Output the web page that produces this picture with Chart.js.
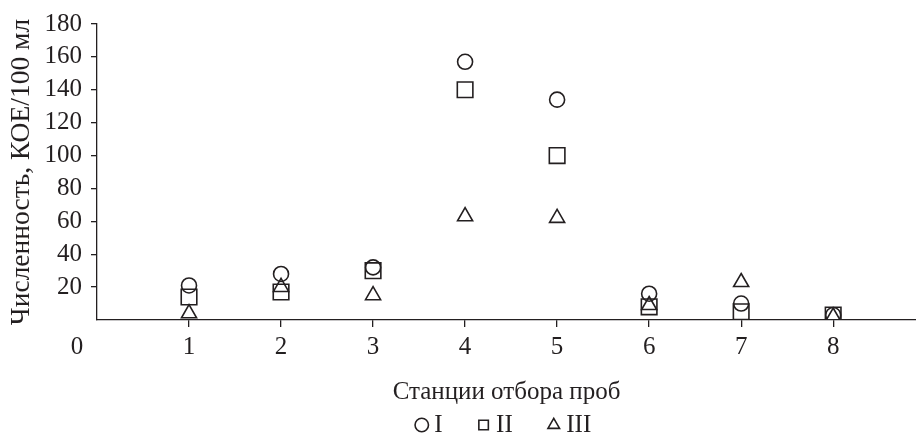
<!DOCTYPE html>
<html>
<head>
<meta charset="utf-8">
<script src="https://cdn.jsdelivr.net/npm/chart.js@4/dist/chart.umd.min.js"></script>
<style>
  html, body { margin: 0; padding: 0; background: #fff; overflow: hidden; }
  canvas { display: block; }
</style>
</head>
<body>
<canvas id="c" width="916" height="435" style="width:916px;height:435px"></canvas>
<script>
const stations = [1, 2, 3, 4, 5, 6, 7, 8];
const seriesI   = [21, 28, 32, 157, 134, 16, 10, 3];
const seriesII  = [14, 17, 30, 140, 100, 8, 5, 3];
const seriesIII = [4, 20, 15, 63, 62, 9, 23, 2];
const seriesNames = ['I', 'II', 'III'];
const yTicks = [20, 40, 60, 80, 100, 120, 140, 160, 180];
const xOriginLabel = '0';

const INK = '#231f20';
const FONT = '"Liberation Serif", "Times New Roman", serif';

function pts(vals) { return stations.map((s, i) => ({ x: s, y: vals[i] })); }

const originLabel = {
  id: 'originLabel',
  afterDraw(chart) {
    const xs = chart.scales.x;
    const ctx = chart.ctx;
    ctx.save();
    ctx.font = '25px ' + FONT;
    ctx.fillStyle = INK;
    ctx.textAlign = 'center';
    ctx.textBaseline = 'middle';
    ctx.fillText(xOriginLabel, xs.left - 20, xs.top + 27);
    ctx.restore();
  }
};

function ds(label, vals, style, r) {
  return { label, data: pts(vals), pointStyle: style, pointRadius: r, pointHoverRadius: r,
    borderColor: INK, backgroundColor: 'rgba(0,0,0,0)', borderWidth: 1.6, pointBorderWidth: 1.6 };
}

new Chart(document.getElementById('c'), {
  type: 'scatter',
  data: {
    datasets: [
      ds(seriesNames[0], seriesI, 'circle', 7.5),
      ds(seriesNames[1], seriesII, 'rect', 11),
      ds(seriesNames[2], seriesIII, 'triangle', 8.7)
    ]
  },
  options: {
    responsive: false,
    animation: false,
    layout: { autoPadding: false, padding: { top: 24, right: 0, left: 0, bottom: -12.5 } },
    plugins: {
      tooltip: { enabled: false },
      legend: {
        position: 'bottom',
        fullSize: false,
        labels: {
          usePointStyle: true,
          boxWidth: 0.01,
          boxHeight: 9.5,
          padding: 41,
          color: INK,
          font: { family: FONT, size: 25 }
        }
      }
    },
    scales: {
      x: {
        type: 'linear',
        min: 0,
        max: 8.9,
        afterBuildTicks: s => { s.ticks = stations.map(v => ({ value: v })); },
        afterFit: s => { s.height = 51.5; s.paddingLeft = 0; s.paddingRight = 0; },
        ticks: {
          color: INK,
          padding: 5,
          font: { family: FONT, size: 25, lineHeight: 1.2 },
          callback: v => String(v)
        },
        grid: { drawOnChartArea: false, color: INK, tickLength: 7, lineWidth: 1.3 },
        border: { display: true, color: INK, width: 1.3 },
        title: {
          display: true,
          text: 'Станции отбора проб',
          color: INK,
          font: { family: FONT, size: 25, lineHeight: 1.2 },
          padding: { top: 0, bottom: -35.5 }
        }
      },
      y: {
        min: 0,
        max: 180,
        afterBuildTicks: s => { s.ticks = yTicks.map(v => ({ value: v })); },
        afterFit: s => { s.width = 97; s.paddingTop = 0; s.paddingBottom = 0; },
        ticks: {
          color: INK,
          padding: 9,
          font: { family: FONT, size: 25 }
        },
        grid: { drawOnChartArea: false, color: INK, tickLength: 6, lineWidth: 1.3 },
        border: { display: true, color: INK, width: 1.3 },
        title: {
          display: true,
          text: 'Численность, КОЕ/100 мл',
          color: INK,
          font: { family: FONT, size: 27.5, lineHeight: 1.2 },
          padding: { top: 5.5, bottom: 0 }
        }
      }
    }
  },
  plugins: [originLabel]
});
</script>
</body>
</html>
